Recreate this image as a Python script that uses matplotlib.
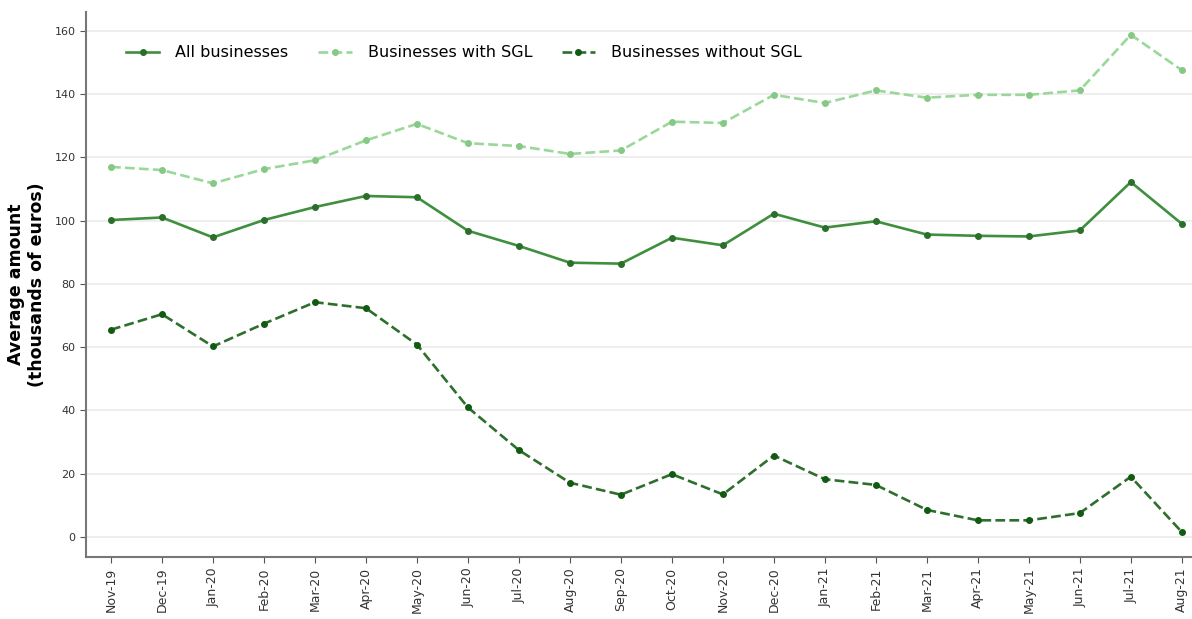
import matplotlib
matplotlib.use("Agg")
import matplotlib.pyplot as plt
import numpy as np

months = ["Nov-19", "Dec-19", "Jan-20", "Feb-20", "Mar-20", "Apr-20", "May-20",
          "Jun-20", "Jul-20", "Aug-20", "Sep-20", "Oct-20", "Nov-20", "Dec-20",
          "Jan-21", "Feb-21", "Mar-21", "Apr-21", "May-21", "Jun-21", "Jul-21",
          "Aug-21"]

all_businesses = [100.2, 101.0, 94.7, 100.2, 104.3, 107.8, 107.4, 96.8, 92.0,
                  86.7, 86.4, 94.6, 92.2, 102.2, 97.8, 99.8, 95.6, 95.2, 95.0,
                  96.9, 112.2, 99.0]
with_sgl = [117.0, 116.0, 111.8, 116.3, 119.1, 125.4, 130.6, 124.5, 123.6,
            121.1, 122.2, 131.3, 130.9, 139.8, 137.2, 141.2, 138.9, 139.8,
            139.8, 141.2, 158.8, 147.6]
without_sgl = [65.5, 70.4, 60.2, 67.4, 74.2, 72.3, 60.8, 40.9, 27.4, 17.1,
               13.3, 19.8, 13.4, 25.7, 18.2, 16.4, 8.5, 5.2, 5.2, 7.5, 19.0, 1.5]

plt.rcParams['font.family'] = ['DejaVu Sans']

fig = plt.figure(figsize=(11.92, 6.19), dpi=100)
ax = fig.add_axes([86/1192, 62/619, 1 - 86/1192, (557 - 12)/619])

x = np.arange(len(months))
ax.plot(x, all_businesses, color="#3f8f3f", lw=1.9, marker="o", ms=4,
        mfc="#2a6f2a", mec="#2a6f2a", label="All businesses")
ax.plot(x, with_sgl, color="#9ad89a", lw=1.9, ls="--", marker="o", ms=4,
        mfc="#86c986", mec="#86c986", label="Businesses with SGL")
ax.plot(x, without_sgl, color="#2e6f2e", lw=1.9, ls="--", marker="o", ms=4,
        mfc="#125a12", mec="#125a12", label="Businesses without SGL")

ax.set_xlim(-0.49, 21.2)
ax.set_ylim(-6.4, 166)
ax.set_xticks(x)
ax.set_xticklabels(months, rotation=90, fontsize=9, color="#333333")
ax.set_yticks(np.arange(0, 161, 20))
ax.tick_params(axis="y", labelsize=8, colors="#333333")
ax.tick_params(axis="both", color="#555555", length=4)

ax.grid(axis="y", color="#ebebeb", lw=1.2)
ax.set_axisbelow(True)
for s in ["top", "right"]:
    ax.spines[s].set_visible(False)
for s in ["left", "bottom"]:
    ax.spines[s].set_color("#777777")
    ax.spines[s].set_linewidth(1.5)

ax.set_ylabel("Average amount\n(thousands of euros)", fontsize=12.5,
              fontweight="bold", labelpad=6)

ax.legend(loc="upper left", ncol=3, frameon=False, fontsize=11.5,
          bbox_to_anchor=(0.023, 0.965), columnspacing=1.85,
          handlelength=2.1, handletextpad=1.0)

fig.savefig("out.png", dpi=100)
